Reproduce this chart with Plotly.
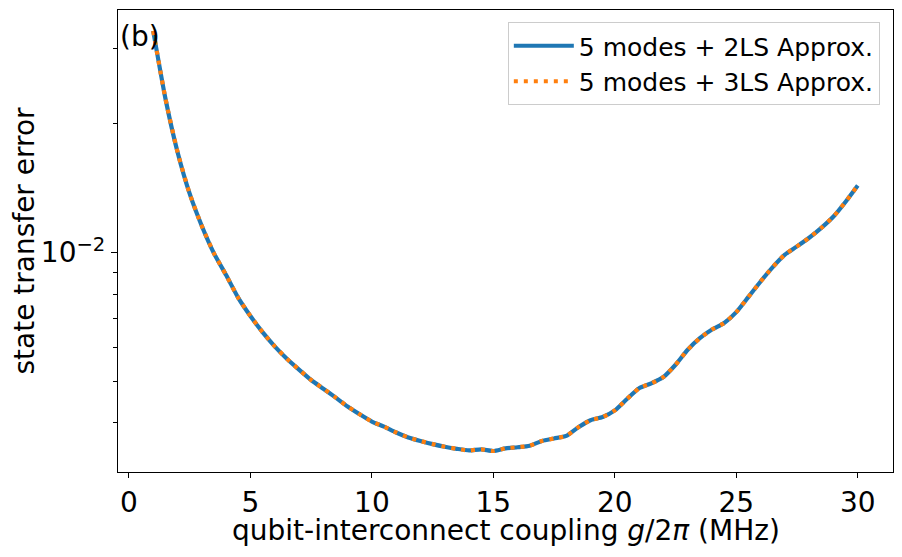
import numpy as np
import plotly.graph_objects as go

# coupling g/2pi (MHz)
g_mhz = [1.0, 1.5, 2.0, 2.5, 3.0, 3.5, 4.0, 4.5, 5.0, 5.5, 6.0, 6.5, 7.0, 7.5, 8.0, 8.5,
         9.0, 9.5, 10.0, 10.5, 11.0, 11.5, 12.0, 12.5, 13.0, 13.5, 14.0, 14.5, 15.0, 15.5,
         16.0, 16.5, 17.0, 17.5, 18.0, 18.5, 19.0, 19.5, 20.0, 20.5, 21.0, 21.5, 22.0, 22.5,
         23.0, 23.5, 24.0, 24.5, 25.0, 25.5, 26.0, 26.5, 27.0, 27.5, 28.0, 28.5, 29.0, 29.5, 30.0]

# state transfer error, 5 modes + 2LS approximation
err_2ls = [0.03293, 0.02294, 0.01718, 0.01373, 0.01154, 0.00996, 0.00886, 0.00784, 0.00711,
           0.00652, 0.00604, 0.00565, 0.00533, 0.00504, 0.00481, 0.00459, 0.00437, 0.00419,
           0.00403, 0.00392, 0.00380, 0.00370, 0.00363, 0.00357, 0.00352, 0.00348, 0.00345,
           0.00347, 0.00344, 0.00349, 0.00351, 0.00354, 0.00363, 0.00368, 0.00373, 0.00391,
           0.00406, 0.00413, 0.00428, 0.00455, 0.00482, 0.00495, 0.00512, 0.00547, 0.00593,
           0.00631, 0.00661, 0.00685, 0.00726, 0.00788, 0.00856, 0.00925, 0.00989, 0.01034,
           0.01083, 0.01142, 0.01214, 0.01315, 0.01435]

# 5 modes + 3LS approximation (indistinguishable at this scale)
err_3ls = list(err_2ls)

minor_ticks = [0.003, 0.004, 0.005, 0.006, 0.007, 0.008, 0.009, 0.02, 0.03]

FONT = "DejaVu Sans"

# matplotlib-like 5% margins
x_pad = 0.05 * (max(g_mhz) - min(g_mhz))
x_range = [min(g_mhz) - x_pad, max(g_mhz) + x_pad]
lo, hi = np.log10(min(err_2ls)), np.log10(max(err_2ls))
y_range = [lo - 0.05 * (hi - lo), hi + 0.05 * (hi - lo)]

fig = go.Figure()
fig.add_trace(go.Scatter(
    x=g_mhz, y=err_2ls, mode="lines", name="5 modes + 2LS Approx.",
    line=dict(color="#1f77b4", width=4.2, shape="spline", smoothing=0.6),
))
fig.add_trace(go.Scatter(
    x=g_mhz, y=err_3ls, mode="lines", name="5 modes + 3LS Approx.",
    line=dict(color="#ff7f0e", width=4.2, dash="4px,6px", shape="spline", smoothing=0.6),
))

fig.add_annotation(
    text="(b)", xref="paper", yref="paper", x=0, y=1, xanchor="left", yanchor="top",
    xshift=0, yshift=-8, showarrow=False, font=dict(size=28, color="black", family=FONT),
)
# x axis title placed like matplotlib's xlabel
fig.add_annotation(
    text="qubit-interconnect coupling <i>g</i>/2<i>π</i> (MHz)",
    xref="paper", yref="paper", x=0.5, y=0, xanchor="center", yanchor="middle",
    yshift=-58, showarrow=False, font=dict(size=28, color="black", family=FONT),
)

# page body adds an 8px offset, so the figure is sized to end at the window edge
fig.update_layout(
    width=894, height=549,
    margin=dict(l=110, r=9, t=2, b=85),
    paper_bgcolor="white", plot_bgcolor="white",
    font=dict(family=FONT, color="black", size=28),
    legend=dict(
        x=0.983, y=0.974, xanchor="right", yanchor="top",
        bgcolor="rgba(255,255,255,0.8)", bordercolor="#cccccc", borderwidth=1,
        font=dict(size=25, family=FONT), itemwidth=60,
    ),
    xaxis=dict(
        range=x_range, tickvals=[0, 5, 10, 15, 20, 25, 30],
        ticks="outside", ticklen=5, tickwidth=1.1, tickcolor="black",
        showline=True, linecolor="black", linewidth=1.1, mirror=True,
        showgrid=False, zeroline=False, tickfont=dict(size=28),
    ),
    yaxis=dict(
        type="log", range=y_range, tickvals=[0.01], ticktext=["10<sup>−2</sup>"],
        ticks="outside", ticklen=6, tickwidth=1.1, tickcolor="black",
        minor=dict(tickvals=minor_ticks, ticks="outside", ticklen=3.5,
                   tickwidth=0.9, tickcolor="black", showgrid=False),
        showline=True, linecolor="black", linewidth=1.1, mirror=True,
        showgrid=False, zeroline=False, tickfont=dict(size=28),
        title=dict(text="state transfer error", font=dict(size=28), standoff=7),
    ),
)

fig.write_html("out.html")
